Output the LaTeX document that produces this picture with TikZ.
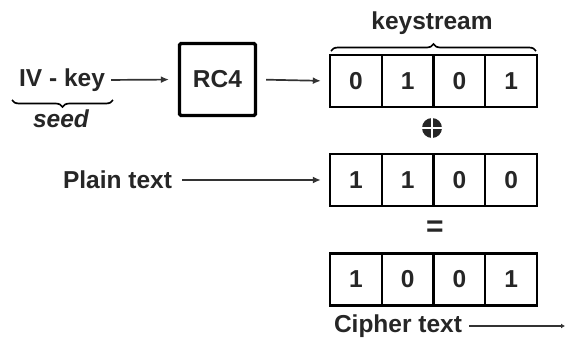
\documentclass[tikz,border=0pt]{standalone}
\usepackage{fontspec}
\setmainfont{Liberation Sans}
\usetikzlibrary{arrows.meta,decorations.pathreplacing}
\begin{document}
\begin{tikzpicture}[x=1pt,y=-1pt,
  every node/.style={font=\fontsize{24.5}{28}\selectfont\bfseries, inner sep=0pt},
  cell/.style={draw, line width=2.4pt, minimum width=51.75pt, minimum height=52pt, text=black!85},
  conn/.style={line width=1.7pt, draw=black!80, -{Latex[length=8pt,width=7pt]}},
  brc/.style={line width=1.7pt, decorate, decoration={brace, amplitude=7pt}},
  lbl/.style={text=black!85}]
\useasboundingbox (0,0) rectangle (566,338);
% left input
\node[lbl] (iv) at (62,80) {IV - key};
\coordinate (bl) at (12,100);
\coordinate (br) at (113,100);
\draw[brc, decoration={mirror}] (bl) -- (br);
\node[lbl, font=\fontsize{24.5}{28}\selectfont\bfseries\itshape] (seed) at (61,119) {seed};
% RC4
\node[draw, line width=3.2pt, rounded corners=1.5pt, minimum width=76pt, minimum height=72pt, lbl] (rc4) at (217.5,79.5) {RC4};
\draw[conn, shorten <=6pt, shorten >=9pt] (iv.east) -- (rc4.west);
% keystream row
\foreach \v [count=\i] in {0,1,0,1}{
  \node[cell] (k\i) at ({330+51.75*(\i-0.5)},81) {\v};
}
\draw[conn, shorten <=9pt, shorten >=8pt] (rc4.east) -- (k1.west);
\coordinate (kl) at (331,51);
\coordinate (kr) at (536,51);
\draw[brc] (kl) -- (kr);
\node[lbl] (ks) at (432,23) {keystream};
% xor
\node[circle, fill=black!85, minimum size=20pt,
  path picture={\draw[white, line width=2.4pt] (path picture bounding box.north) -- (path picture bounding box.south)
  (path picture bounding box.west) -- (path picture bounding box.east);}] (xor) at (432,128) {};
% plain row
\foreach \v [count=\i] in {1,1,0,0}{
  \node[cell] (p\i) at ({330+51.75*(\i-0.5)},180) {\v};
}
\node[lbl] (plain) at (117.5,180) {Plain text};
\draw[conn, shorten <=10pt, shorten >=8pt] (plain.east) -- (p1.west);
% equals
\node[lbl, font=\fontsize{30}{30}\selectfont\bfseries] (eq) at (435,229) {=};
% cipher row
\foreach \v [count=\i] in {1,0,0,1}{
  \node[cell] (c\i) at ({330+51.75*(\i-0.5)},279.5) {\v};
}
\node[lbl] (ct) at (398,326) {Cipher text};
\coordinate (ctend) at (565,326);
\draw[conn, -{Latex[length=4pt,width=5pt]}, shorten <=7pt] (ct.east) -- (ctend);
\end{tikzpicture}
\end{document}
